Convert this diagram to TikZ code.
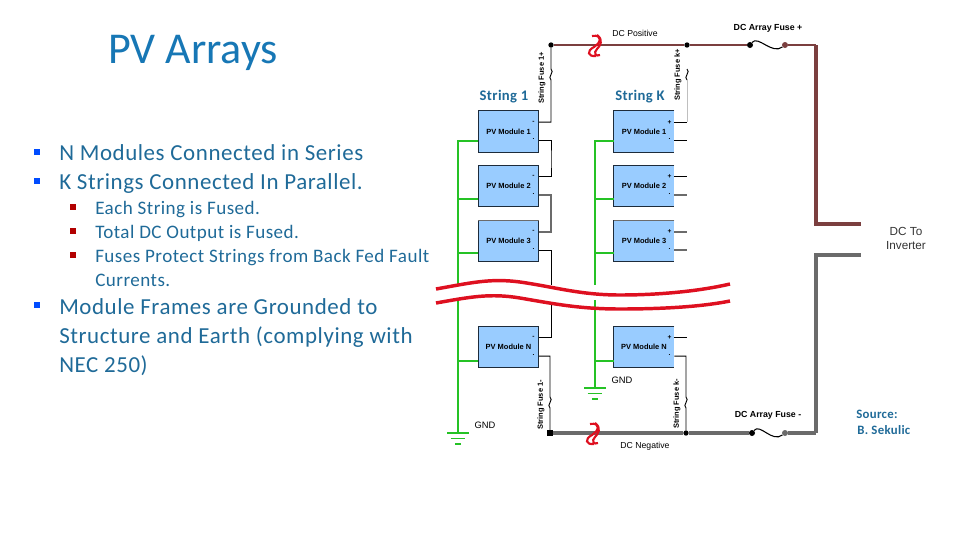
\documentclass[tikz,border=0pt]{standalone}
\usepackage{fontspec}
\setmainfont{Carlito}
\newfontfamily\labelfont{Liberation Sans}
\newfontfamily\slidefont[LetterSpace=2.5]{Carlito}
\definecolor{slideblue}{HTML}{1F6A98}
\definecolor{titleblue}{HTML}{1777B5}
\definecolor{modfill}{HTML}{99CCFF}
\definecolor{modedge}{HTML}{1D2B3A}
\definecolor{posbus}{HTML}{7B3F3F}
\definecolor{negbus}{HTML}{6B6B6B}
\definecolor{earth}{HTML}{25C225}
\definecolor{breakred}{HTML}{DE1020}
\tikzset{
  module/.style={fill=modfill, minimum width=45pt, minimum height=30.5pt, inner sep=0pt,
    font=\labelfont\bfseries\fontsize{5.6}{7}\selectfont, text=black},
  modedges/.style={draw=modedge, line width=.75pt},
  wire/.style={draw=black, line width=.7pt},
  graywire/.style={draw=negbus, line width=1.4pt},
  posline/.style={draw=posbus, line width=2.1pt},
  negline/.style={draw=negbus, line width=2.4pt},
  gridline/.style={draw=earth, line width=2pt},
  branch/.style={draw=earth, line width=1.3pt},
  breakline/.style={draw=breakred, line width=2.6pt},
  squiggle/.style={draw=breakred, line width=1.6pt},
  tiny label/.style={font=\labelfont\fontsize{6.5}{7}\selectfont, text=black, inner sep=0pt},
  fuse bold/.style={font=\labelfont\bfseries\fontsize{6.6}{7}\selectfont, text=black, inner sep=0pt},
  fuse label/.style={font=\labelfont\bfseries\fontsize{5.6}{7}\selectfont, text=black, inner sep=0pt, rotate=90},
  inverter label/.style={font=\labelfont\fontsize{8.8}{10}\selectfont, text=black!80, inner sep=0pt},
  stringhead/.style={font=\slidefont\bfseries\fontsize{11}{12}\selectfont, text=slideblue, inner sep=0pt},
  mainitem/.style={anchor=base west, inner sep=0pt, text=slideblue, font=\slidefont\fontsize{17.2}{20}\selectfont},
  subitem/.style={anchor=base west, inner sep=0pt, text=slideblue, font=\slidefont\fontsize{14.3}{17}\selectfont},
  sourcetext/.style={anchor=base west, inner sep=0pt, text=slideblue, font=\slidefont\bfseries\fontsize{9.6}{11}\selectfont},
  bluebullet/.style={fill=blue!70!cyan, inner sep=0pt, minimum size=5pt},
  redbullet/.style={fill=red!70!black, inner sep=0pt, minimum size=4.2pt},
  dot/.style={circle, fill=black, inner sep=0pt, minimum size=4.5pt},
  polarity/.style={font=\labelfont\bfseries\fontsize{5}{5}\selectfont, inner sep=0pt},
}
\begin{document}
\begin{tikzpicture}[x=.75pt, y=-.75pt]
\useasboundingbox (0,0) rectangle (960,540);
% slide text
\node [anchor=base west, inner sep=0pt, text=titleblue, font=\fontsize{33}{38}\selectfont] (title) at (108,63) {PV Arrays};
\node [bluebullet] (b1) at (37,152) {};
\node [mainitem] (t1) at (59,160) {N Modules Connected in Series};
\node [bluebullet] (b2) at (37,181) {};
\node [mainitem] (t2) at (59,189) {K Strings Connected In Parallel.};
\node [redbullet] (b3) at (73,207) {};
\node [subitem] (t3) at (95,214) {Each String is Fused.};
\node [redbullet] (b4) at (73,231) {};
\node [subitem] (t4) at (95,238) {Total DC Output is Fused.};
\node [redbullet] (b5) at (73,255) {};
\node [subitem] (t5) at (95,262) {Fuses Protect Strings from Back Fed Fault};
\node [subitem] (t6) at (95,286) {Currents.};
\node [bluebullet] (b6) at (37,305) {};
\node [mainitem] (t7) at (59,314) {Module Frames are Grounded to};
\node [mainitem] (t8) at (59,343) {Structure and Earth (complying with};
\node [mainitem] (t9) at (59,372) {NEC 250)};
\node [sourcetext] (src1) at (856,418) {Source:};
\node [sourcetext] (src2) at (857,434) {B. Sekulic};
% modules
\foreach \mname/\mid/\my in {1/1/131.5, 2/2/186, 3/3/241, N/N/347} {
  \node [module] (a\mid) at (508.5,\my) {PV Module \mname};
  \node [module] (k\mid) at (644,\my) {PV Module \mname};
  \draw [modedges] (a\mid.north west) rectangle (a\mid.south east);
  \draw [modedges] (k\mid.north east) -- (k\mid.north west) -- (k\mid.south west) -- (k\mid.south east);
  \coordinate (atop\mid) at ([yshift=7pt]a\mid.east);
  \coordinate (abot\mid) at ([yshift=-6.8pt]a\mid.east);
  \coordinate (ktop\mid) at ([yshift=7pt]k\mid.east);
  \coordinate (kbot\mid) at ([yshift=-6.8pt]k\mid.east);
  \node [polarity] (aplus\mid) at ([xshift=-4pt]atop\mid) {-};
  \node [polarity] (kplus\mid) at ([xshift=-3.5pt]ktop\mid) {+};
  \node [polarity] (aminus\mid) at ([xshift=-4pt,yshift=1pt]abot\mid) {.};
  \node [polarity] (kminus\mid) at ([xshift=-3.5pt,yshift=1pt]kbot\mid) {.};
}
\draw [graywire, line width=1pt] (a3.north west) -- (a3.north east);
\draw [graywire, line width=1pt] (k3.north west) -- (k3.north east);
\node [stringhead] (s1) at (504,97) {String 1};
\node [stringhead] (sk) at (640,97) {String K};
% positive side
\node [dot, minimum size=4pt] (j1) at (551,45) {};
\node [dot, minimum size=4pt] (jk) at (687,45) {};
\node [dot] (fp1) at (750,45) {};
\node [dot, fill=posbus] (fp2) at (785,45) {};
\coordinate (pc) at (816,45);
\coordinate (pe) at (861,224);
\draw [posline] (j1) -- (jk) -- (fp1);
\draw [posline] (fp2) -- (pc);
\draw [posline, line width=2.4pt] (pc) |- (pe);
\draw [black, line width=.8pt] (fp1) .. controls (758,35) and (772,55) .. (fp2);
% negative side
\node [dot, minimum size=4pt, rectangle] (n1) at (550,433) {};
\node [dot, minimum size=4pt] (nk) at (686,433) {};
\node [dot] (fn1) at (752,433) {};
\node [dot, fill=negbus] (fn2) at (785,433) {};
\coordinate (nc) at (816,433);
\coordinate (ne) at (861,255);
\draw [negline] (n1) -- (nk) -- (fn1);
\draw [negline] (fn2) -- (nc);
\draw [negline] (nc) |- (ne);
\draw [black, line width=.8pt] (fn1) .. controls (760,423) and (772,443) .. (fn2);
% string 1 wiring
\coordinate (fa1) at (551,69);
\coordinate (fa2) at (551,80);
\coordinate (ga1) at (551,287);
\coordinate (ga2) at (551,303);
\coordinate (fb1) at (550,397);
\coordinate (fb2) at (550,408);
\draw [wire] (j1) -- (fa1) .. controls (555,72) and (547,77) .. (fa2) |- (atop1);
\draw [wire] (abot1) -| (551,160) |- (atop2);
\draw [graywire] (abot2) -| (551,214) |- (atop3);
\draw [wire] (abot3) -| (ga1);
\draw [wire] (ga2) |- (atopN);
\draw [wire] (abotN) -| (fb1) .. controls (554,400) and (546,405) .. (fb2) -- (n1);
% string K wiring, stubs only
\coordinate (fc1) at (687,69);
\coordinate (fc2) at (687,80);
\coordinate (fd1) at (686,397);
\coordinate (fd2) at (686,408);
\draw [wire] (fc1) .. controls (691,72) and (683,77) .. (fc2);
\draw [wire, black!25] (fc2) -- (687,122);
\draw [wire] (ktop1) -- ++(13,0);
\draw [wire] (kbot1) -- ++(13,0);
\draw [wire] (ktop2) -- ++(13,0);
\draw [graywire] (kbot2) -- ++(13,0);
\draw [graywire] (ktop3) -- ++(13,0);
\draw [graywire, line width=1pt] (kbot3) -- ++(13,0);
\draw [wire] (ktopN) -- ++(13,0);
\draw [wire] (kbotN) -| (fd1) .. controls (690,400) and (682,405) .. (fd2) -- (nk);
% ground
\coordinate (g1) at (458,433);
\coordinate (g2) at (595,388);
\draw [gridline] (a1.west |- 0,141) -| (g1);
\draw [gridline] (k1.west |- 0,141) -| (g2);
\foreach \mid/\by in {2/199, 3/253, N/361} {
  \draw [branch] (458,\by) -- (a\mid.west |- 0,\by);
  \draw [branch] (595,\by) -- (k\mid.west |- 0,\by);
}
\foreach \gnd in {g1, g2} {
  \draw [draw=earth, line width=1.3pt] ([xshift=-8.2pt]\gnd) -- ([xshift=8.2pt]\gnd);
  \draw [draw=earth, line width=1.3pt] ([xshift=-5.6pt,yshift=-4.2pt]\gnd) -- ([xshift=5.6pt,yshift=-4.2pt]\gnd);
  \draw [draw=earth, line width=1.3pt] ([xshift=-2.2pt,yshift=-8pt]\gnd) -- ([xshift=2.2pt,yshift=-8pt]\gnd);
}
% break across the strings
\fill [white] (436,285) rectangle (730,300);
\draw [wire] (683,306) -- (687,306);
\draw [breakline] (436,289) .. controls (470,283) and (490,278) .. (520,282) .. controls (555,287) and (580,295) .. (620,295) .. controls (660,295) and (700,291) .. (730,284);
\draw [breakline] (436,303) .. controls (470,297) and (490,293) .. (520,298) .. controls (555,304) and (580,309) .. (620,309) .. controls (660,309) and (700,307) .. (730,301);
\draw [squiggle] (592,36) .. controls (604,34) and (600,44) .. (594,47) .. controls (586,51) and (588,57) .. (596,56);
\draw [squiggle] (597,35) .. controls (604,40) and (600,46) .. (597,49) .. controls (593,53) and (596,57) .. (600,55);
\draw [squiggle] (590,424) .. controls (602,422) and (598,432) .. (592,435) .. controls (584,439) and (586,445) .. (594,444);
\draw [squiggle] (595,423) .. controls (602,428) and (598,434) .. (595,437) .. controls (591,441) and (594,445) .. (598,443);
% labels
\node [tiny label] (lpos) at (635,33) {DC Positive};
\node [fuse bold] (lfp) at (768,28) {DC Array Fuse +};
\node [fuse bold] (lfn) at (768,415) {DC Array Fuse -};
\node [tiny label] (lneg) at (645,446) {DC Negative};
\node [inverter label] (linv1) at (906,231) {DC To};
\node [inverter label] (linv2) at (906,246) {Inverter};
\node [tiny label, font=\labelfont\fontsize{7}{8}\selectfont] (lg1) at (485,425) {GND};
\node [tiny label, font=\labelfont\fontsize{7}{8}\selectfont] (lg2) at (622,380) {GND};
\node [fuse label] (lf1) at (542,78) {String Fuse 1+};
\node [fuse label] (lfk) at (678,75) {String Fuse k+};
\node [fuse label] (lf2) at (541,405) {String Fuse 1-};
\node [fuse label] (lfl) at (677,404) {String Fuse k-};
\end{tikzpicture}
\end{document}
